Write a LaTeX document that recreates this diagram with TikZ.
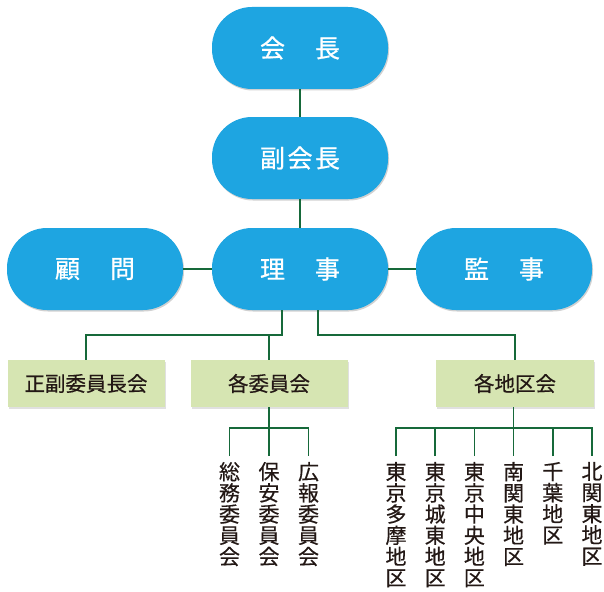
\documentclass[tikz,border=0pt]{standalone}
\usepackage{fontspec}
\setmainfont{Noto Sans CJK JP}
\newfontfamily\pillfont[FakeBold=0.8]{Noto Sans CJK JP}
\newfontfamily\labfont[FakeBold=0.4]{Noto Sans CJK JP}
\usetikzlibrary{shadows}
\definecolor{pillblue}{RGB}{30,165,225}
\definecolor{boxgreen}{RGB}{214,229,178}
\definecolor{linegreen}{RGB}{22,105,58}
\definecolor{ink}{RGB}{35,24,21}
\newcommand{\tk}{\kern2.5pt}
\begin{document}
\begin{tikzpicture}[x=1pt,y=-1pt,
  pill/.style={fill=pillblue, text=white, minimum width=176pt, minimum height=82pt,
    rounded corners=40pt, inner sep=0pt, font=\pillfont\fontsize{25}{27}\selectfont,
    drop shadow={shadow xshift=1pt, shadow yshift=-1.5pt, opacity=0.18, fill=black}},
  gbox/.style={fill=boxgreen, text=ink, minimum width=157pt, minimum height=47pt,
    inner sep=0pt, font=\labfont\fontsize{20.5}{22}\selectfont,
    drop shadow={shadow xshift=1pt, shadow yshift=-1.5pt, opacity=0.12, fill=black}},
  vcol/.style={text=ink, align=center, inner sep=0pt, outer ysep=6pt, anchor=north,
    font=\labfont\fontsize{21}{21.2}\selectfont},
  conn/.style={draw=linegreen, line width=1.6pt}]
\useasboundingbox[fill=white] (0,0) rectangle (604,591);

% top pills
\node[pill] (kaicho) at (300,48) {会\tk{}　\tk{}長};
\node[pill] (fuku) at (300,158) {副\tk{}会\tk{}長};
\node[pill] (komon) at (95,269) {顧\tk{}　\tk{}問};
\node[pill] (riji) at (300,269) {理\tk{}　\tk{}事};
\node[pill] (kanji) at (504,269) {監\tk{}　\tk{}事};

% green boxes
\node[gbox] (seifuku) at (86,383.5) {正副委員長会};
\node[gbox] (kakuiin) at (269,383.5) {各委員会};
\node[gbox, minimum width=158pt] (kakuchiku) at (515,383.5) {各地区会};

% committee columns
\node[vcol] (c1) at (229.5,456) {総\\務\\委\\員\\会};
\node[vcol] (c2) at (269,456) {保\\安\\委\\員\\会};
\node[vcol] (c3) at (308.5,456) {広\\報\\委\\員\\会};

% district columns
\node[vcol] (d1) at (396,456) {東\\京\\多\\摩\\地\\区};
\node[vcol] (d2) at (435.2,456) {東\\京\\城\\東\\地\\区};
\node[vcol] (d3) at (474.4,456) {東\\京\\中\\央\\地\\区};
\node[vcol] (d4) at (513.6,456) {南\\関\\東\\地\\区};
\node[vcol] (d5) at (552.8,456) {千\\葉\\地\\区};
\node[vcol] (d6) at (592,456) {北\\関\\東\\地\\区};

% connectors top
\draw[conn] (kaicho.south) -- (fuku.north);
\draw[conn] (fuku.south) -- (riji.north);
\draw[conn] (komon.east) -- (riji.west);
\draw[conn] (riji.east) -- (kanji.west);

% from riji to boxes
\draw[conn] ([xshift=-18pt]riji.south) -- ++(0,25) -| (seifuku.north);
\draw[conn] (kakuiin.north) -- ++(0,-25);
\draw[conn] ([xshift=18pt]riji.south) -- ++(0,25) -| (kakuchiku.north);

% committees
\draw[conn] (kakuiin.south) -- (c2.north);
\draw[conn] (c1.north) -- (c1.north |- 0,428) -- (c3.north |- 0,428) -- (c3.north);

% districts
\draw[conn] (d4.north |- kakuchiku.south) -- (d4.north);
\draw[conn] (d1.north) -- (d1.north |- 0,428) -- (d6.north |- 0,428) -- (d6.north);
\draw[conn] (d2.north) -- (d2.north |- 0,428);
\draw[conn] (d3.north) -- (d3.north |- 0,428);
\draw[conn] (d5.north) -- (d5.north |- 0,428);
\end{tikzpicture}
\end{document}
